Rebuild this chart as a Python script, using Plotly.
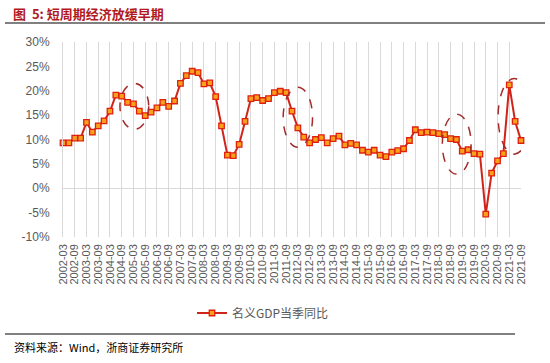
import plotly.graph_objects as go

# ---- data ----
quarters = [f"{y}-{m}" for y in range(2002, 2022) for m in ("03", "06", "09", "12")][:79]
gdp_yoy = [
    9.3, 9.3, 10.3, 10.3, 13.5, 11.5, 12.8, 13.8,      # 2002-2003
    15.8, 19.1, 18.9, 17.6, 17.3, 15.8, 14.9, 15.6,    # 2004-2005
    16.5, 17.6, 16.8, 17.9, 21.5, 23.1, 24.0, 23.7,    # 2006-2007
    21.4, 21.6, 18.8, 12.8, 6.8, 6.7, 9.0, 13.7,       # 2008-2009
    18.4, 18.6, 18.0, 18.4, 19.6, 19.9, 19.6, 15.8,    # 2010-2011
    12.4, 10.5, 9.3, 10.0, 10.4, 9.3, 10.2, 10.7,      # 2012-2013
    8.9, 9.2, 8.9, 7.8, 7.4, 7.8, 6.8, 6.5,            # 2014-2015
    7.4, 7.7, 8.1, 9.8, 12.0, 11.4, 11.5, 11.4,        # 2016-2017
    11.2, 11.0, 10.2, 10.0, 7.6, 7.9, 7.1, 7.0,        # 2018-2019
    -5.3, 3.1, 5.6, 7.1, 21.2, 13.7, 9.8,              # 2020-2021Q3
]
series_name = "名义GDP当季同比"
title_text = "图  5: 短周期经济放缓早期"
source_text = "资料来源：Wind，浙商证券研究所"
y_ticks = [-10, -5, 0, 5, 10, 15, 20, 25, 30]
# highlighted windows: (first quarter index, last quarter index, low value, high value)
highlights = [(9.7, 14.6, 12.1, 21.5), (37.5, 42.5, 8.4, 20.7),
              (64.6, 69.5, 2.9, 15.2), (74.1, 79.6, 7.0, 22.5)]

idx = list(range(len(quarters)))
tick_idx = idx[::2]
tick_txt = quarters[::2]

PL, PT, PW, PH = 63, 42, 458, 195   # plot area in px
FW, FH = 550, 363


def px_x(page_x):
    return (page_x - PL) / PW


def px_y(page_y):
    return 1 - (page_y - PT) / PH


fig = go.Figure()
fig.add_trace(go.Scatter(
    x=idx, y=gdp_yoy, mode="lines+markers", name=series_name,
    line=dict(color="#D0231A", width=2),
    marker=dict(symbol="square", size=5.5, color="#F9A01B",
                line=dict(color="#E0200F", width=1.3)),
    cliponaxis=False,
))

for x0, x1, y0, y1 in highlights:
    fig.add_shape(type="circle", xref="x", yref="y", x0=x0, x1=x1, y0=y0, y1=y1,
                  line=dict(color="#A52A2A", width=1.5, dash="dash"))

# title + rules
fig.add_annotation(text=f"<b>{title_text}</b>", xref="paper", yref="paper",
                   x=px_x(11), y=px_y(13), xanchor="left", yanchor="middle",
                   showarrow=False, font=dict(size=13, color="#B0191E",
                                              family="Noto Sans CJK SC"))
fig.add_shape(type="line", xref="paper", yref="paper",
              x0=px_x(5), x1=px_x(545), y0=px_y(23), y1=px_y(23),
              line=dict(color="#808080", width=2))
fig.add_shape(type="line", xref="paper", yref="paper",
              x0=px_x(5), x1=px_x(515), y0=px_y(334), y1=px_y(334),
              line=dict(color="#808080", width=2))
fig.add_annotation(text=source_text, xref="paper", yref="paper",
                   x=px_x(12), y=px_y(347), xanchor="left", yanchor="middle",
                   showarrow=False, font=dict(size=11, color="#000000",
                                              family="Noto Sans CJK SC"))

fig.update_layout(
    width=FW, height=FH,
    margin=dict(l=PL, r=FW - PL - PW, t=PT, b=FH - PT - PH),
    paper_bgcolor="white", plot_bgcolor="white",
    font=dict(family="Liberation Sans, Arial, sans-serif", color="#595959"),
    showlegend=True,
    legend=dict(orientation="h", xref="container", yref="container",
                x=263 / FW, y=1 - 313 / FH, xanchor="center", yanchor="middle",
                font=dict(size=12, color="#595959", family="Noto Sans CJK SC")),
    xaxis=dict(range=[0, len(quarters) - 1], tickmode="array", tickvals=tick_idx,
               ticktext=tick_txt, tickangle=-90, tickfont=dict(size=11, color="#595959"),
               showgrid=True, gridcolor="#D9D9D9", gridwidth=1, zeroline=False,
               showline=False, ticks="", ticklabelstandoff=4, automargin=False),
    yaxis=dict(range=[-10, 30], tickmode="array", tickvals=y_ticks,
               ticktext=[f"{v}%" for v in y_ticks], tickfont=dict(size=12, color="#595959"),
               showgrid=False, zeroline=True, zerolinecolor="#D9D9D9", zerolinewidth=1,
               showline=True, linecolor="#D9D9D9", linewidth=1, ticks="",
               ticklabelstandoff=10, automargin=False),
)

fig.write_html("out.html", config={"displayModeBar": False},
               post_script="document.body.style.margin='0px';")
